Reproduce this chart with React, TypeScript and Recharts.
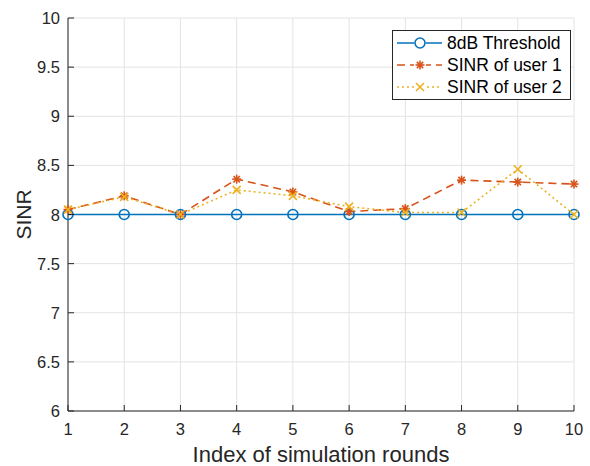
import { LineChart, Line, XAxis, YAxis, CartesianGrid } from "recharts";

const rounds = [1, 2, 3, 4, 5, 6, 7, 8, 9, 10];
const threshold = [8, 8, 8, 8, 8, 8, 8, 8, 8, 8];
const user1 = [8.05, 8.19, 8.0, 8.36, 8.23, 8.03, 8.06, 8.35, 8.33, 8.31];
const user2 = [8.05, 8.18, 8.0, 8.25, 8.19, 8.08, 8.02, 8.02, 8.46, 8.0];
const yTicks = [6, 6.5, 7, 7.5, 8, 8.5, 9, 9.5, 10];

const data = rounds.map((r, i) => ({
  round: r,
  th: threshold[i],
  u1: user1[i],
  u2: user2[i],
}));

const FONT = "'Liberation Sans', Arial, Helvetica, sans-serif";
const AX = "#262626";
const BLUE = "#0072BD";
const ORANGE = "#D95319";
const YELLOW = "#EDB120";
const TM = 8; // tick margin
const TL = 6; // inward tick length

const Circle = (p: any) => (
  <circle cx={p.cx} cy={p.cy} r={5} fill="none" stroke={BLUE} strokeWidth={1.6} />
);

const Star = (p: any) => {
  const s = 4.5;
  const d = s * 0.707;
  return (
    <g stroke={ORANGE} strokeWidth={1.6}>
      <line x1={p.cx - s} y1={p.cy} x2={p.cx + s} y2={p.cy} />
      <line x1={p.cx} y1={p.cy - s} x2={p.cx} y2={p.cy + s} />
      <line x1={p.cx - d} y1={p.cy - d} x2={p.cx + d} y2={p.cy + d} />
      <line x1={p.cx - d} y1={p.cy + d} x2={p.cx + d} y2={p.cy - d} />
    </g>
  );
};

const Cross = (p: any) => {
  const s = 4;
  return (
    <g stroke={YELLOW} strokeWidth={1.6}>
      <line x1={p.cx - s} y1={p.cy - s} x2={p.cx + s} y2={p.cy + s} />
      <line x1={p.cx - s} y1={p.cy + s} x2={p.cx + s} y2={p.cy - s} />
    </g>
  );
};

const LeftTick = (p: any) => (
  <g>
    <text x={p.x} y={p.y} textAnchor="end" dominantBaseline="central" fill={AX} fontSize={16.5} fontFamily={FONT}>
      {p.payload.value}
    </text>
    <line x1={p.x + TM} y1={p.y} x2={p.x + TM + TL} y2={p.y} stroke={AX} />
  </g>
);

const RightTick = (p: any) => (
  <line x1={p.x - TM} y1={p.y} x2={p.x - TM - TL} y2={p.y} stroke={AX} />
);

const BottomTick = (p: any) => (
  <g>
    <text x={p.x} y={p.y + 4} textAnchor="middle" dominantBaseline="hanging" fill={AX} fontSize={16.5} fontFamily={FONT}>
      {p.payload.value}
    </text>
    <line x1={p.x} y1={p.y - TM} x2={p.x} y2={p.y - TM - TL} stroke={AX} />
  </g>
);

const TopTick = (p: any) => (
  <line x1={p.x} y1={p.y + TM} x2={p.x} y2={p.y + TM + TL} stroke={AX} />
);

const legendRows = [
  { label: "8dB Threshold", color: BLUE, dash: undefined, Marker: Circle },
  { label: "SINR of user 1", color: ORANGE, dash: "8 5", Marker: Star },
  { label: "SINR of user 2", color: YELLOW, dash: "2 3", Marker: Cross },
];

const LegendBox = () => (
  <svg width={179} height={70} style={{ display: "block" }}>
    <rect x={0.5} y={0.5} width={178} height={69} fill="#fff" stroke={AX} />
    {legendRows.map((r, i) => {
      const y = 13 + i * 22;
      return (
        <g key={r.label}>
          <line x1={5} y1={y} x2={50} y2={y} stroke={r.color} strokeWidth={1.6} strokeDasharray={r.dash} />
          <rect x={22} y={y - 6} width={12} height={12} fill="#fff" />
          <r.Marker cx={28} cy={y} />
          <text x={55} y={y} dominantBaseline="central" fontSize={17.5} fontFamily={FONT} fill="#000">
            {r.label}
          </text>
        </g>
      );
    })}
  </svg>
);

export default function App() {
  return (
    <div style={{ position: "absolute", left: 0, top: 0, width: 590, height: 466, background: "#fff" }}>
      <LineChart width={590} height={466} data={data} margin={{ top: 18, right: 16, bottom: 0, left: 0 }}>
        <CartesianGrid stroke="#e3e3e3" />
        <XAxis
          dataKey="round"
          type="number"
          domain={[1, 10]}
          ticks={rounds}
          height={55}
          tickSize={0}
          tickMargin={TM}
          tick={<BottomTick />}
          axisLine={{ stroke: AX }}
          label={{ value: "Index of simulation rounds", position: "insideBottom", offset: 4, fill: AX, fontSize: 22, fontFamily: FONT }}
        />
        <XAxis
          xAxisId="top"
          dataKey="round"
          type="number"
          orientation="top"
          domain={[1, 10]}
          ticks={rounds}
          height={0}
          tickSize={0}
          tickMargin={TM}
          tick={<TopTick />}
          axisLine={{ stroke: AX }}
        />
        <YAxis
          type="number"
          domain={[6, 10]}
          ticks={yTicks}
          width={68}
          tickSize={0}
          tickMargin={TM}
          tick={<LeftTick />}
          axisLine={{ stroke: AX }}
          label={{ value: "SINR", angle: -90, position: "insideLeft", offset: 24, fill: AX, fontSize: 21, fontFamily: FONT, style: { textAnchor: "middle" } }}
        />
        <YAxis
          yAxisId="right"
          orientation="right"
          type="number"
          domain={[6, 10]}
          ticks={yTicks}
          width={0}
          tickSize={0}
          tickMargin={TM}
          tick={<RightTick />}
          axisLine={{ stroke: AX }}
        />
        <Line dataKey="th" stroke={BLUE} strokeWidth={1.6} dot={<Circle />} activeDot={false} isAnimationActive={false} />
        <Line dataKey="u1" stroke={ORANGE} strokeWidth={1.6} strokeDasharray="8 5" dot={<Star />} activeDot={false} isAnimationActive={false} />
        <Line dataKey="u2" stroke={YELLOW} strokeWidth={1.6} strokeDasharray="2 3" dot={<Cross />} activeDot={false} isAnimationActive={false} />
      </LineChart>
      <div style={{ position: "absolute", left: 392, top: 30 }}>
        <LegendBox />
      </div>
    </div>
  );
}
